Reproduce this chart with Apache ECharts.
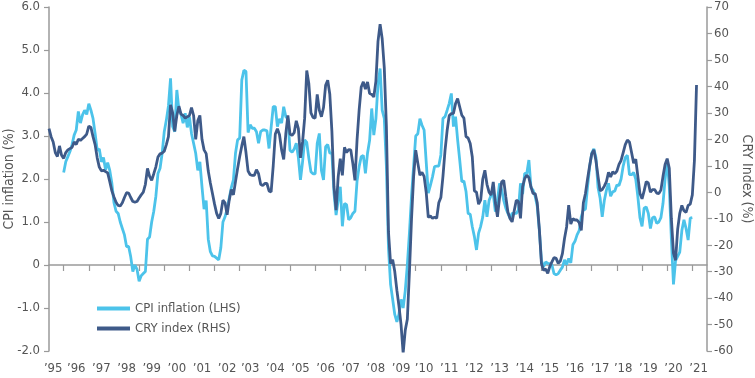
<!DOCTYPE html>
<html>
<head>
<meta charset="utf-8">
<script src="https://cdn.jsdelivr.net/npm/echarts@6/dist/echarts.min.js"></script>
<style>html,body{margin:0;padding:0;background:#fff}#c{width:755px;height:378px}</style>
</head>
<body>
<div id="c"></div>
<script>
// Monthly series. CRY starts Jun 1995, CPI starts Jan 1996.
const cryStart = [1995, 6];
const cryValues = [
  24, 21, 19, 15, 13.5, 17.5, 14,                                   // 1995 Jun-Dec
  12.8, 15, 16, 16.5, 17, 19, 18, 20, 19.6, 20.3, 21, 22,           // 1996
  25, 24.5, 21, 18, 13, 9.5, 8.1, 8.3, 7.8, 7.3, 4, 0.5,            // 1997
  -1.8, -3.8, -5, -5.2, -4, -2, -0.2, -0.3, -2, -3.5, -3.7, -3.5,   // 1998
  -2.2, -1, 0, 3, 9, 6, 4.5, 7, 9.6, 13.3, 14.5, 14.8,              // 1999
  15.5, 18, 21, 33, 30, 23, 29, 32.5, 29.5, 29, 28, 28.5,           // 2000
  29, 32, 29, 20, 27, 29, 20, 16, 14.6, 8, 3.5, -0.5,               // 2001
  -4.5, -8, -9.9, -8, -3, -4, -8.5, -3, 1, -1, 4, 9,                // 2002
  13.5, 17.5, 21, 15, 8, 6.6, 6.4, 6.4, 8.5, 7, 3, 2.5,             // 2003
  3.3, 3.3, 0.5, 0.1, 10, 22, 24, 21.7, 16, 12.4, 22, 29,           // 2004
  22, 21.5, 22.5, 27, 24, 13, 19, 28, 46, 41, 30, 28.3,             // 2005
  28, 37, 31, 28.5, 32, 40.4, 42.3, 37, 23, 2, -6.8, 5.8,           // 2006
  12.7, 6.4, 17, 15, 16.1, 16, 10.8, 4.5, 19.7, 31, 39.8, 41.7,     // 2007
  39, 41.7, 37.3, 37, 36, 42, 57, 63.5, 58, 47, 25, -15,            // 2008
  -27, -25.5, -30, -37, -43, -50, -60.8, -52.2, -48, -30, -10, 6,   // 2009
  15.9, 11, 6.4, 7.5, 6, 0, -9.5, -9, -9.9, -9.4, -9.9, -4,         // 2010
  -2, 6, 15.9, 23.4, 29, 29.7, 29.8, 33.5, 35.4, 32.2, 29.1, 28,    // 2011
  21, 20.5, 18.4, 13.3, 0.5, 0, -4.5, -3, 5, 8.3, 3, 0,             // 2012
  -1.1, 3.9, -4, -9.3, -2, 3.9, 4.5, -1.8, -7.5, -9.9, -11.2, -7,   // 2013
  -3, -3.5, -9.9, 2, 5.2, 6.4, 5.5, 2, -0.5, -0.5, -4, -14,         // 2014
  -27, -29.5, -29, -30.7, -28, -26.3, -24.7, -25, -26.9, -26, -23.2, -17.5, // 2015
  -13.1, -4.9, -12, -10, -10.5, -10.5, -11.5, -14.4, -4, -0.5, 5, 10,       // 2016
  14.5, 16, 12, 6, 0.5, 1, 2.3, 4, 7.5, 5.8, 7.7, 7,                // 2017
  8, 10.5, 12, 15, 18, 19.7, 19, 15, 11, 12.5, 6, -0.5,             // 2018
  -2.5, 0.5, 4, 3.5, 0, 1, 1, -0.3, -0.5, 0.8, 6, 10.5,             // 2019
  12.7, 9, -10, -23, -25.7, -14, -8, -5, -7, -7.6, -5, -4.5,        // 2020
  -1, 12, 40.5                                                      // 2021 Jan-Mar
];
const cpiStart = [1996, 1];
const cpiValues = [
  2.15, 2.4, 2.52, 2.64, 2.8, 3.02, 3.14, 3.57, 3.3, 3.49, 3.6, 3.5,       // 1996
  3.75, 3.6, 3.41, 3.06, 2.67, 2.7, 2.4, 2.5, 2.21, 2.38, 2.2, 1.9,        // 1997
  1.45, 1.25, 1.2, 1.0, 0.85, 0.7, 0.43, 0.43, 0.19, -0.15, 0.0, -0.1,     // 1998
  -0.38, -0.25, -0.2, -0.15, 0.6, 0.65, 1.0, 1.25, 1.6, 2.13, 2.25, 2.6,   // 1999
  3.1, 3.37, 3.7, 4.34, 3.22, 3.1, 4.07, 3.6, 3.5, 3.3, 3.53, 3.2,         // 2000
  3.45, 3.06, 2.83, 2.6, 2.2, 2.4, 1.82, 1.3, 1.5, 0.6, 0.31, 0.21,        // 2001
  0.2, 0.16, 0.12, 0.4, 1.0, 1.12, 1.3, 1.55, 1.8, 1.98, 2.6, 2.91,        // 2002
  2.95, 4.3, 4.53, 4.5, 3.08, 3.26, 3.18, 3.18, 3.1, 2.83, 3.1, 3.14,      // 2003
  3.14, 3.12, 2.71, 3.2, 3.68, 3.68, 3.22, 3.4, 3.3, 3.68, 3.45, 3.4,      // 2004
  2.67, 2.62, 2.7, 2.83, 2.5, 1.98, 2.4, 2.91, 2.85, 2.48, 2.17, 2.12,     // 2005
  2.12, 2.83, 3.06, 2.2, 1.98, 2.75, 2.8, 2.6, 2.6, 1.67, 1.16, 1.5,       // 2006
  1.82, 0.9, 1.43, 1.4, 1.05, 1.1, 1.2, 1.25, 1.95, 2.29, 2.52, 2.55,      // 2007
  2.13, 2.6, 2.9, 3.64, 3.02, 3.4, 4.2, 4.57, 3.6, 3.41, 2.3, 0.4,         // 2008
  -0.45, -0.8, -1.15, -1.32, -1.15, -0.8, -1.0, -0.6, 0.0, 0.75, 1.6, 2.3, // 2009
  3.0, 3.05, 3.4, 3.25, 3.14, 2.4, 1.67, 1.85, 2.05, 2.29, 2.3, 2.3,       // 2010
  2.56, 3.41, 3.45, 3.6, 3.76, 3.99, 3.22, 3.45, 2.91, 2.44, 1.94, 1.95,   // 2011
  1.71, 1.2, 1.18, 0.89, 0.66, 0.35, 0.74, 0.9, 1.12, 1.51, 1.12, 1.5,     // 2012
  1.63, 1.65, 1.24, 1.5, 1.9, 1.75, 1.5, 1.32, 1.2, 1.09, 1.2, 1.2,        // 2013
  1.2, 1.28, 1.9, 1.65, 2.13, 2.13, 2.44, 1.8, 1.74, 1.6, 1.36, 0.8,       // 2014
  0.1, -0.04, 0.07, 0.04, 0.03, 0.0, -0.2, -0.23, -0.2, -0.12, -0.05, 0.12,// 2015
  0.01, 0.15, 0.05, 0.47, 0.55, 0.7, 0.8, 1.12, 1.28, 1.3, 1.82, 2.29,     // 2016
  2.6, 2.7, 2.5, 1.8, 1.55, 1.12, 1.5, 1.74, 1.9, 1.6, 1.7, 1.72,          // 2017
  1.86, 1.85, 2.0, 2.3, 2.5, 2.55, 2.1, 2.1, 2.15, 2.0, 1.59, 1.1,         // 2018
  0.9, 1.32, 1.35, 1.2, 0.85, 1.1, 1.12, 0.97, 1.0, 1.1, 1.43, 2.0,        // 2019
  2.44, 1.82, 0.6, -0.45, 0.1, 0.2, 0.3, 0.8, 1.05, 0.85, 0.58, 1.09,      // 2020
  1.1                                                                      // 2021 Jan
];
const axisStart = [1995, 6];
const axisEnd = [2021, 8];
const leftTicks = [-2, -1, 0, 1, 2, 3, 4, 5, 6];
const rightTicks = [-60, -50, -40, -30, -20, -10, 0, 10, 20, 30, 40, 50, 60, 70];
const seriesNames = ['CPI inflation (LHS)', 'CRY index (RHS)'];
const axisNames = ['CPI inflation (%)', 'CRY Index (%)'];

// build month categories
function mIdx(ym) { return ym[0] * 12 + (ym[1] - 1); }
const months = [];
for (let m = mIdx(axisStart); m <= mIdx(axisEnd); m++) {
  const y = Math.floor(m / 12), mo = m % 12 + 1;
  months.push(y + '-' + (mo < 10 ? '0' : '') + mo);
}
function place(start, vals) {
  const arr = new Array(months.length).fill(null);
  const off = mIdx(start) - mIdx(axisStart);
  vals.forEach((v, i) => { arr[off + i] = v; });
  return arr;
}
const cpiData = place(cpiStart, cpiValues);
const cryData = place(cryStart, cryValues);

// year labels spread evenly along the axis
const nYears = axisEnd[0] - axisStart[0];
const labelSet = new Set();
for (let k = 0; k <= nYears; k++) labelSet.add(Math.round(1.5 + k * 11.865));

const FONT = '"Liberation Sans Narrow", "DejaVu Sans Condensed", Roboto, sans-serif';
const GREY = '#9a9a9a';
const TXT = '#555';
const LIGHT = '#4cc3ea';
const DARK = '#3e5a89';

const chart = echarts.init(document.getElementById('c'), null, {renderer: 'canvas'});
chart.setOption({
  animation: false,
  textStyle: {fontFamily: FONT},
  grid: {left: 49, right: 48, top: 7, bottom: 27, outerBoundsMode: 'none'},
  legend: {
    orient: 'vertical', left: 92, top: 297, itemGap: 7,
    itemWidth: 33, itemHeight: 4, icon: 'rect',
    textStyle: {fontFamily: FONT, fontSize: 13, color: TXT},
    data: seriesNames
  },
  xAxis: {
    type: 'category', data: months, boundaryGap: false,
    axisLine: {lineStyle: {color: GREY, width: 1.5}},
    axisTick: {show: true, length: 6, lineStyle: {color: GREY, width: 1.2},
      interval: (i, v) => v.slice(5) === '01'},
    axisLabel: {interval: (i) => labelSet.has(i), formatter: v => '\u2019' + v.slice(2, 4),
      margin: 11, color: TXT, fontSize: 13, fontFamily: FONT},
    splitLine: {show: false}
  },
  yAxis: [{
    type: 'value', min: leftTicks[0], max: leftTicks[leftTicks.length - 1], interval: 1,
    name: axisNames[0], nameLocation: 'middle', nameGap: 33, nameMoveOverlap: false,
    nameTextStyle: {fontFamily: FONT, fontSize: 14, color: TXT},
    axisLine: {show: true, lineStyle: {color: GREY, width: 1.5}},
    axisTick: {show: true, length: 5, lineStyle: {color: GREY, width: 1.2}},
    axisLabel: {formatter: v => v === 0 ? '0' : v.toFixed(1), margin: 9, color: TXT, fontSize: 13, fontFamily: FONT},
    splitLine: {show: false}
  }, {
    type: 'value', min: rightTicks[0], max: rightTicks[rightTicks.length - 1], interval: 10,
    name: axisNames[1], nameLocation: 'middle', nameGap: 33, nameRotate: -90, nameMoveOverlap: false,
    nameTextStyle: {fontFamily: FONT, fontSize: 14, color: TXT},
    axisLine: {show: true, lineStyle: {color: GREY, width: 1.5}},
    axisTick: {show: true, length: 5, lineStyle: {color: GREY, width: 1.2}},
    axisLabel: {margin: 7, color: TXT, fontSize: 13, fontFamily: FONT},
    splitLine: {show: false}
  }],
  series: [{
    name: seriesNames[0], type: 'line', yAxisIndex: 0, data: cpiData,
    showSymbol: false, symbol: 'none', connectNulls: false,
    lineStyle: {color: LIGHT, width: 2.8}, itemStyle: {color: LIGHT}
  }, {
    name: seriesNames[1], type: 'line', yAxisIndex: 1, data: cryData,
    showSymbol: false, symbol: 'none', connectNulls: false,
    lineStyle: {color: DARK, width: 2.8}, itemStyle: {color: DARK}
  }]
});
</script>
</body>
</html>
